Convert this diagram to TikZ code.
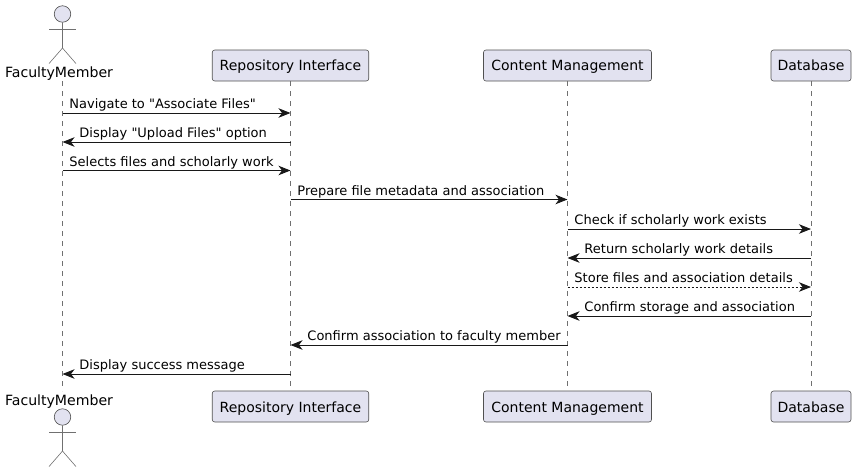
\documentclass[tikz,border=0pt]{standalone}
\usepackage{fontspec}
\newfontfamily\plainfont{DejaVu Sans}
\usetikzlibrary{arrows.meta}
\definecolor{boxfill}{HTML}{E2E2F0}
\definecolor{inkline}{HTML}{181818}
\definecolor{boxline}{HTML}{505050}
\definecolor{thinline}{HTML}{707070}
\tikzset{
  partbox/.style = {rectangle, draw=boxline, line width=0.6pt, fill=boxfill, rounded corners=2.5pt, minimum height=31pt, inner sep=0pt, text height=11pt, text depth=2pt, font=\plainfont\fontsize{14}{16}\selectfont, text=black},
  partboxlow/.style = {partbox, text height=12pt, text depth=1pt},
  actorhead/.style = {circle, draw=boxline, line width=0.6pt, fill=boxfill, minimum size=16.5pt, inner sep=0pt},
  actorline/.style = {draw=thinline, line width=0.6pt},
  actorname/.style = {anchor=base, inner sep=0pt, font=\plainfont\fontsize{14.1}{16}\selectfont, text=black},
  lifeline/.style = {draw=thinline, line width=0.6pt, dash pattern=on 5pt off 5pt},
  msg/.style = {draw=inkline, line width=0.9pt, -{Stealth[length=12pt,width=9.5pt,inset=3.5pt]}},
  msgdash/.style = {msg, dash pattern=on 2pt off 2pt},
  msgtext/.style = {anchor=base west, inner sep=0pt, yshift=4.5pt, font=\plainfont\fontsize{13}{15}\selectfont, text=black}
}

\begin{document}
\begin{tikzpicture}[x=1pt, y=-1pt]
\useasboundingbox (0,0) rectangle (855,472);

% Participants, top row
\node [actorname] (fmtop) at (59,77.5) {FacultyMember};
\node [partbox, minimum width=156.5pt] (repotop) at (290.5,65.5) {Repository Interface};
\node [partbox, minimum width=168pt] (cmtop) at (567.5,65.5) {Content Management};
\node [partbox, minimum width=80pt] (dbtop) at (811,65.5) {Database};

% Participants, bottom row
\node [actorname] (fmbot) at (59,405) {FacultyMember};
\node [partboxlow, minimum width=156.5pt] (repobot) at (290.5,406.5) {Repository Interface};
\node [partboxlow, minimum width=168pt] (cmbot) at (567.5,406.5) {Content Management};
\node [partboxlow, minimum width=80pt] (dbbot) at (811,406.5) {Database};

% Actor figures
\node [actorhead] (headtop) at (62.5,14) {};
\draw [actorline] (headtop.south) -- ++(0,25.5) -- ++(-13.5,15.5);
\draw [actorline] (headtop.south) ++(0,25.5) -- ++(13.5,15.5);
\draw [actorline] (49,29) -- (76,29);

\node [actorhead] (headbot) at (62.5,417) {};
\draw [actorline] (headbot.south) -- ++(0,25.5) -- ++(-13.5,15.5);
\draw [actorline] (headbot.south) ++(0,25.5) -- ++(13.5,15.5);
\draw [actorline] (49,432) -- (76,432);

% Lifelines
\coordinate (fmstart) at (62.5,81);
\coordinate (fmend) at (62.5,391);
\draw [lifeline] (fmstart) -- (fmend);
\draw [lifeline] (repotop.south) -- (repobot.north);
\draw [lifeline] (cmtop.south) -- (cmbot.north);
\draw [lifeline] (dbtop.south) -- (dbbot.north);

% Message rows
\coordinate (m1) at (0,113);
\coordinate (m2) at (0,142);
\coordinate (m3) at (0,170.5);
\coordinate (m4) at (0,199.5);
\coordinate (m5) at (0,229);
\coordinate (m6) at (0,258);
\coordinate (m7) at (0,287);
\coordinate (m8) at (0,316);
\coordinate (m9) at (0,345);
\coordinate (m10) at (0,374);

% Messages
\draw [msg] (fmstart |- m1) -- node [msgtext, pos=0, xshift=6.5pt] (t1) {Navigate to "Associate Files"} (repotop |- m1);
\draw [msg] (repotop |- m2) -- node [msgtext, pos=1, xshift=16.5pt] (t2) {Display "Upload Files" option} (fmstart |- m2);
\draw [msg] (fmstart |- m3) -- node [msgtext, pos=0, xshift=6.5pt] (t3) {Selects files and scholarly work} (repotop |- m3);
\draw [msg] (repotop |- m4) -- node [msgtext, pos=0, xshift=6.5pt] (t4) {Prepare file metadata and association} (cmtop |- m4);
\draw [msg] (cmtop |- m5) -- node [msgtext, pos=0, xshift=6.5pt] (t5) {Check if scholarly work exists} (dbtop |- m5);
\draw [msg] (dbtop |- m6) -- node [msgtext, pos=1, xshift=16.5pt] (t6) {Return scholarly work details} (cmtop |- m6);
\draw [msgdash] (cmtop |- m7) -- node [msgtext, pos=0, xshift=6.5pt] (t7) {Store files and association details} (dbtop |- m7);
\draw [msg] (dbtop |- m8) -- node [msgtext, pos=1, xshift=16.5pt] (t8) {Confirm storage and association} (cmtop |- m8);
\draw [msg] (cmtop |- m9) -- node [msgtext, pos=1, xshift=16.5pt] (t9) {Confirm association to faculty member} (repotop |- m9);
\draw [msg] (repotop |- m10) -- node [msgtext, pos=1, xshift=16.5pt] (t10) {Display success message} (fmstart |- m10);

\end{tikzpicture}
\end{document}
